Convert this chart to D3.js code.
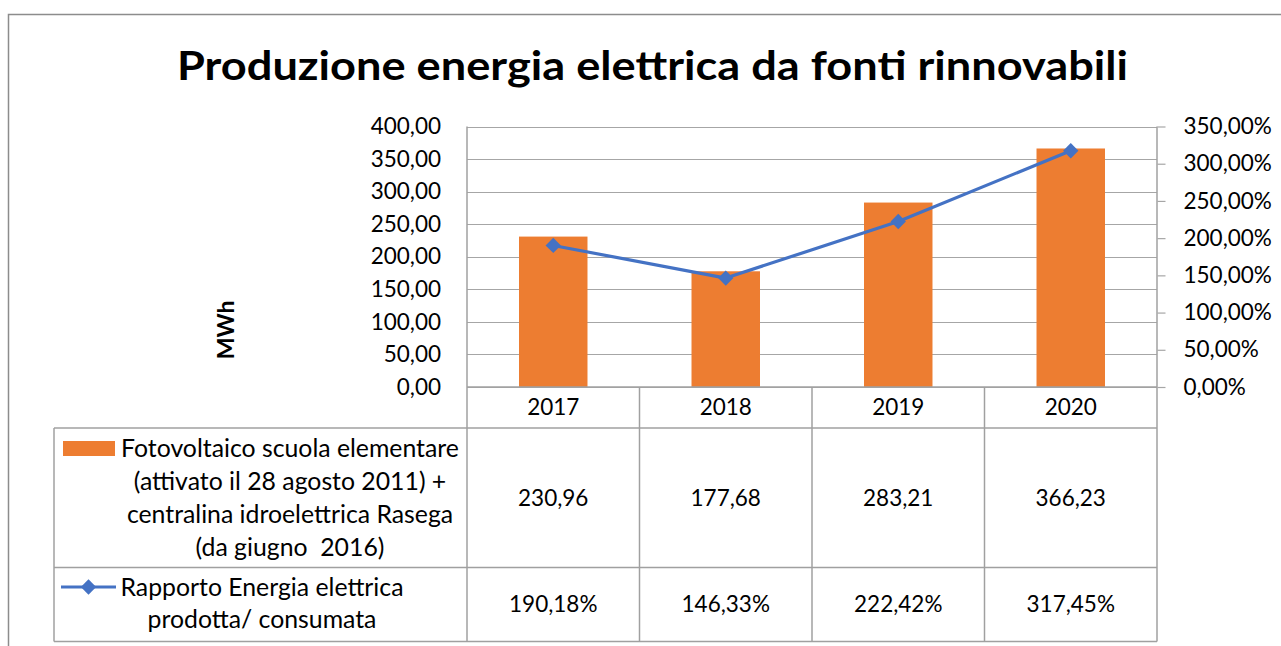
<!DOCTYPE html>
<html>
<head>
<meta charset="utf-8">
<script src="https://cdn.jsdelivr.net/npm/d3@7"></script>
<style>
  html, body { margin: 0; padding: 0; background: #fff; }
  svg { display: block; font-family: Lato, "Open Sans", sans-serif; }
  text { white-space: pre; }
</style>
</head>
<body>
<svg id="chart" width="1281" height="646"></svg>
<script>
// ---- data ----
const title = "Produzione energia elettrica da fonti rinnovabili";
const categories = ["2017", "2018", "2019", "2020"];
const barValues = [230.96, 177.68, 283.21, 366.23];          // MWh
const ratioValues = [190.18, 146.33, 222.42, 317.45];         // %
const leftTicks = [0, 50, 100, 150, 200, 250, 300, 350, 400];
const rightTicks = [0, 50, 100, 150, 200, 250, 300, 350];
const yAxisLabel = "MWh";
const barLegendLines = ["Fotovoltaico scuola elementare", "(attivato il 28 agosto 2011) +", "centralina idroelettrica Rasega", "(da giugno  2016)"];
const lineLegendLines = ["Rapporto Energia elettrica", "prodotta/ consumata"];

const it = d3.formatLocale({decimal: ",", thousands: ".", grouping: [3], currency: ["€", ""]});
const fmt2 = it.format(".2f");

const svg = d3.select("#chart");
const W = 1281, H = 646;
const plot = {left: 467, right: 1157, top: 126.5, bottom: 387};
const table = {left: 54, headerBottom: 428, row1Bottom: 567.5, row2Bottom: 641.5};
const gridColor = "#a6a6a6", tableColor = "#a0a0a0";
const fontSize = 22.5, legendFontSize = 24.8;

// outer frame
svg.append("path").attr("d", `M8.5,${H} L8.5,14.5 L${W},14.5`)
  .attr("fill", "none").attr("stroke", "#8c8c8c").attr("stroke-width", 1.5);

// title
svg.append("text").attr("x", 652.5).attr("y", 79.5).attr("text-anchor", "middle")
  .attr("font-size", 40).attr("font-weight", "bold").attr("fill", "#000")
  .attr("textLength", 951).attr("lengthAdjust", "spacingAndGlyphs").text(title);

// scales
const x = d3.scaleBand().domain(categories).range([plot.left, plot.right]).padding(0);
const yL = d3.scaleLinear().domain([0, 400]).range([plot.bottom, plot.top]);
const yR = d3.scaleLinear().domain([0, 350]).range([plot.bottom, plot.top]);

// gridlines
svg.append("g").selectAll("line").data(leftTicks).join("line")
  .attr("x1", plot.left).attr("x2", plot.right)
  .attr("y1", d => Math.round(yL(d)) + 0.5).attr("y2", d => Math.round(yL(d)) + 0.5)
  .attr("stroke", gridColor).attr("stroke-width", 1.2);

// left axis (labels only)
const leftAxis = d3.axisLeft(yL).tickValues(leftTicks).tickFormat(fmt2).tickSize(0).tickPadding(26);
const gL = svg.append("g").attr("transform", `translate(${plot.left},0)`).call(leftAxis);
gL.select(".domain").remove();
gL.selectAll("text").attr("font-size", fontSize).attr("font-family", "Lato").attr("fill", "#000");

// right axis
const rightAxis = d3.axisRight(yR).tickValues(rightTicks).tickFormat(d => fmt2(d) + "%").tickSize(8).tickPadding(18);
const gR = svg.append("g").attr("transform", `translate(${plot.right + 0.5},0)`).call(rightAxis);
gR.select(".domain").remove();
gR.selectAll("line").attr("stroke", gridColor).attr("stroke-width", 1.2);
gR.selectAll("text").attr("font-size", fontSize).attr("font-family", "Lato").attr("fill", "#000");

// y axis title
svg.append("text").attr("transform", "translate(234,330) rotate(-90)")
  .attr("text-anchor", "middle").attr("font-size", 23).attr("font-weight", "bold").text(yAxisLabel);

// bars
const barW = x.bandwidth() * 0.397;
svg.append("g").selectAll("rect").data(barValues).join("rect")
  .attr("x", (d, i) => x(categories[i]) + (x.bandwidth() - barW) / 2)
  .attr("width", barW)
  .attr("y", d => yL(d)).attr("height", d => plot.bottom - yL(d))
  .attr("fill", "#ed7d31");

// table lines
const tl = svg.append("g").attr("stroke", tableColor).attr("stroke-width", 1.5);
// plot side axes (full height)
[plot.left, plot.right].forEach(xx => {
  tl.append("line").attr("x1", xx).attr("x2", xx).attr("y1", plot.top).attr("y2", table.row2Bottom);
});
// inner column separators (table only)
categories.slice(1).forEach(c => {
  const xx = x(c);
  tl.append("line").attr("x1", xx).attr("x2", xx).attr("y1", plot.bottom).attr("y2", table.row2Bottom);
});
tl.append("line").attr("x1", plot.left).attr("x2", plot.right).attr("y1", plot.bottom).attr("y2", plot.bottom);
[table.headerBottom, table.row1Bottom, table.row2Bottom].forEach(yy => {
  tl.append("line").attr("x1", table.left).attr("x2", plot.right).attr("y1", yy).attr("y2", yy);
});
tl.append("line").attr("x1", table.left).attr("x2", table.left).attr("y1", table.headerBottom).attr("y2", table.row2Bottom);

// line series
const lineGen = d3.line().x((d, i) => x(categories[i]) + x.bandwidth() / 2).y(d => yR(d));
svg.append("path").datum(ratioValues).attr("d", lineGen)
  .attr("fill", "none").attr("stroke", "#4472c4").attr("stroke-width", 3.2).attr("stroke-linejoin", "round");
const diamond = d3.symbol().type(d3.symbolDiamond2).size(150);
svg.append("g").selectAll("path").data(ratioValues).join("path")
  .attr("transform", (d, i) => `translate(${x(categories[i]) + x.bandwidth() / 2},${yR(d)})`)
  .attr("d", diamond).attr("fill", "#4472c4");

// header row (categories)
svg.append("g").selectAll("text").data(categories).join("text")
  .attr("x", d => x(d) + x.bandwidth() / 2).attr("y", (plot.bottom + table.headerBottom) / 2)
  .attr("dy", "0.35em").attr("text-anchor", "middle").attr("font-size", fontSize).text(d => d);

// values rows
svg.append("g").selectAll("text").data(barValues).join("text")
  .attr("x", (d, i) => x(categories[i]) + x.bandwidth() / 2).attr("y", (table.headerBottom + table.row1Bottom) / 2)
  .attr("dy", "0.35em").attr("text-anchor", "middle").attr("font-size", fontSize).text(d => fmt2(d));
svg.append("g").selectAll("text").data(ratioValues).join("text")
  .attr("x", (d, i) => x(categories[i]) + x.bandwidth() / 2).attr("y", (table.row1Bottom + table.row2Bottom) / 2)
  .attr("dy", "0.35em").attr("text-anchor", "middle").attr("font-size", fontSize).text(d => fmt2(d) + "%");

// legend cell 1
svg.append("rect").attr("x", 63).attr("y", 441).attr("width", 52).attr("height", 15).attr("fill", "#ed7d31");
svg.append("g").selectAll("text").data(barLegendLines).join("text")
  .attr("x", 290).attr("y", (d, i) => 448 + i * 33).attr("dy", "0.35em")
  .attr("text-anchor", "middle").attr("font-size", legendFontSize).text(d => d);

// legend cell 2
svg.append("line").attr("x1", 61).attr("x2", 116).attr("y1", 587).attr("y2", 587)
  .attr("stroke", "#4472c4").attr("stroke-width", 3.2);
svg.append("path").attr("transform", "translate(88.5,587)").attr("d", diamond).attr("fill", "#4472c4");
svg.append("g").selectAll("text").data(lineLegendLines).join("text")
  .attr("x", 262).attr("y", (d, i) => 587 + i * 32.5).attr("dy", "0.35em")
  .attr("text-anchor", "middle").attr("font-size", legendFontSize).text(d => d);
</script>
</body>
</html>
